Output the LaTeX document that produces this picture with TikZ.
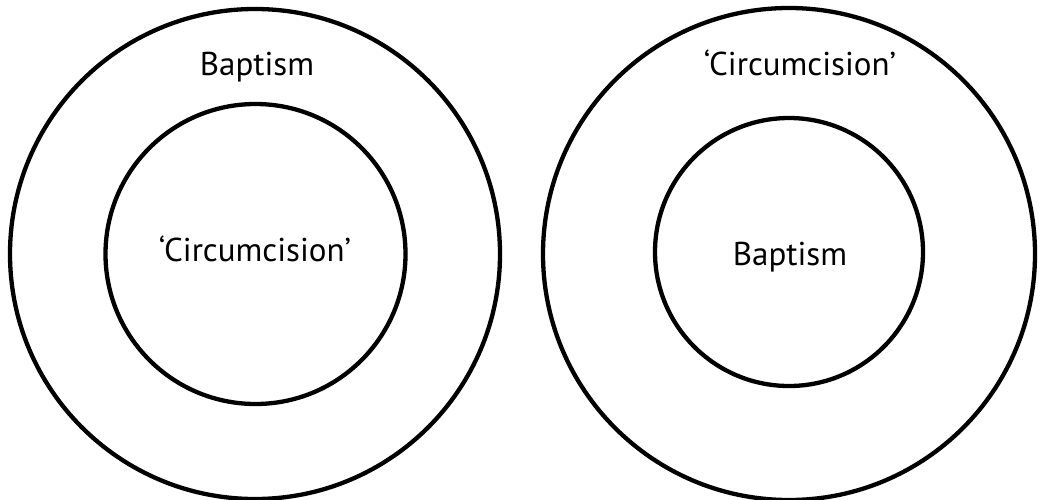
\documentclass[tikz,border=0pt]{standalone}
\usepackage{fontspec}
\setmainfont{PT Sans}
\usepackage{tikz}

\begin{document}
\begin{tikzpicture}[x=1pt,y=-1pt]
            \useasboundingbox (0,0) rectangle (1048,499);
            \tikzset{ring/.style={circle,draw,line width=4.3pt,inner sep=0pt},
                     lbl/.style={anchor=base,inner sep=0pt,font=\fontsize{33}{38}\selectfont}}

            \node [ring,minimum size=490pt] (outerL) at (255,254) {};
            \node [ring,minimum size=300pt] (innerL) at (255.5,254) {};
            \node [ring,minimum size=492pt] (outerR) at (789,254) {};
            \node [ring,minimum size=268pt] (innerR) at (789,252) {};

            \node [lbl] (topL) at (257,75) {Baptism};
            \node [lbl] (midL) at (255,261) {`Circumcision'};
            \node [lbl] (topR) at (800,75) {`Circumcision'};
            \node [lbl] (midR) at (790,265) {Baptism};
        \end{tikzpicture}
\end{document}
